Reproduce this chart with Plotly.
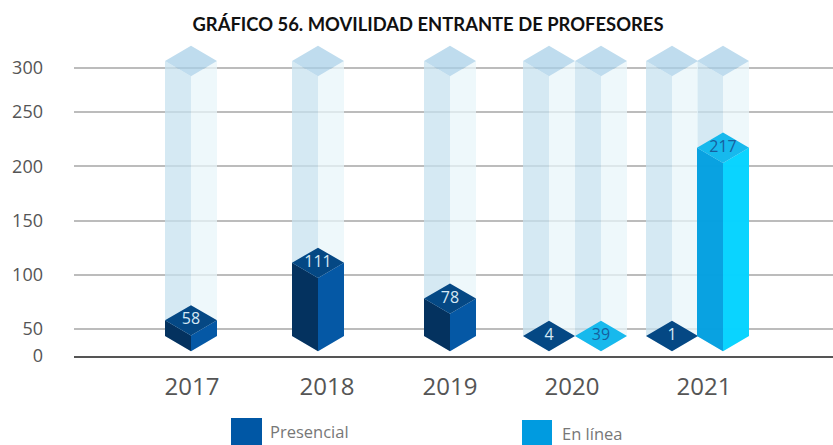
import plotly.graph_objects as go

# ---- data ----
years = ["2017", "2018", "2019", "2020", "2021"]
presencial = [58, 111, 78, 4, 1]
en_linea = [None, None, None, 39, 217]
y_tick_labels = ["0", "50", "100", "150", "200", "250", "300"]
series_names = ["Presencial", "En línea"]
title = "GRÁFICO 56. MOVILIDAD ENTRANTE DE PROFESORES"

# ---- layout constants (x axis runs in slots across the plot) ----
W, H = 833, 445
LEFT, AXIS_PX = 74, 356
PX_PER_UNIT = 1.085
ZERO_PX = 383.25
Y_RANGE = [(ZERO_PX - AXIS_PX) / PX_PER_UNIT, ZERO_PX / PX_PER_UNIT]
# the source axis is compressed at both ends: 0 and 300 sit off the regular spacing
Y_TICK_POS = [Y_RANGE[0], 50, 100, 150, 200, 250, 291]
PRES_X = [191, 318, 450, 549, 672]
LINEA_X = [None, None, None, 601, 723]
YEAR_LABEL_X = [192, 327, 450, 572, 704]
HALF_W = 26
HALF_H = 14
BASE = 43.5        # level of the lowest drawn block
COLUMN_TOP = 297   # level of the pale backdrop columns


def faces(centers, levels):
    left, right, top = ([], []), ([], []), ([], [])
    for c, v in zip(centers, levels):
        lv = max(v, BASE)
        polys = [
            (left, [c - HALF_W, c, c, c - HALF_W, c - HALF_W], [lv, lv - HALF_H, BASE - HALF_H, BASE, lv]),
            (right, [c, c + HALF_W, c + HALF_W, c, c], [lv - HALF_H, lv, BASE, BASE - HALF_H, lv - HALF_H]),
            (top, [c - HALF_W, c, c + HALF_W, c, c - HALF_W], [lv, lv + HALF_H, lv, lv - HALF_H, lv]),
        ]
        for store, xs, ys in polys:
            store[0].extend(xs + [None])
            store[1].extend(ys + [None])
    return left, right, top


def add_faces(fig, centers, levels, colors):
    for (xs, ys), col in zip(faces(centers, levels), colors):
        fig.add_trace(go.Scatter(x=xs, y=ys, mode="lines", fill="toself", fillcolor=col,
                                 line=dict(width=0), hoverinfo="skip", showlegend=False))


fig = go.Figure()

pres_pts = list(zip(PRES_X, presencial))
linea_pts = [(x, v) for x, v in zip(LINEA_X, en_linea) if v is not None]
all_x = [p[0] for p in pres_pts + linea_pts]

add_faces(fig, all_x, [COLUMN_TOP] * len(all_x),
          ["rgba(199,226,239,0.75)", "rgba(232,245,249,0.75)", "rgba(170,208,232,0.75)"])
add_faces(fig, [p[0] for p in pres_pts], [p[1] for p in pres_pts],
          ["rgba(0,46,92,0.98)", "rgba(0,85,163,0.98)", "rgba(0,68,130,0.98)"])
add_faces(fig, [p[0] for p in linea_pts], [p[1] for p in linea_pts],
          ["rgba(0,158,224,0.96)", "rgba(0,210,255,0.96)", "rgba(14,182,236,0.96)"])

fig.add_trace(go.Scatter(x=[p[0] for p in pres_pts], y=[max(p[1], BASE) for p in pres_pts],
                         text=[str(p[1]) for p in pres_pts], mode="text",
                         textfont=dict(family="Open Sans", size=16, color="#d5e8f5"),
                         textposition="middle center", hoverinfo="skip", showlegend=False, cliponaxis=False))
fig.add_trace(go.Scatter(x=[p[0] for p in linea_pts], y=[max(p[1], BASE) for p in linea_pts],
                         text=[str(p[1]) for p in linea_pts], mode="text",
                         textfont=dict(family="Open Sans", size=16, color="#17609f"),
                         textposition="middle center", hoverinfo="skip", showlegend=False, cliponaxis=False))


def paper_y(px):
    return (AXIS_PX - px) / AXIS_PX


shapes = [
    dict(type="rect", xref="x", yref="paper", x0=231, x1=262, y0=paper_y(418), y1=paper_y(450),
         fillcolor="#0057a5", line_width=0),
    dict(type="rect", xref="x", yref="paper", x0=522, x1=552, y0=paper_y(420), y1=paper_y(450),
         fillcolor="#009be0", line_width=0),
]
annotations = [
    dict(text=series_names[0], xref="x", yref="paper", x=268, y=paper_y(431), xanchor="left", yanchor="middle",
         showarrow=False, font=dict(family="Open Sans", size=16.5, color="#777777")),
    dict(text=series_names[1], xref="x", yref="paper", x=560, y=paper_y(433.5), xanchor="left", yanchor="middle",
         showarrow=False, font=dict(family="Open Sans", size=16.5, color="#777777")),
]

fig.update_layout(
    width=W, height=H, autosize=False,
    margin=dict(l=LEFT, r=0, t=0, b=H - AXIS_PX),
    paper_bgcolor="white", plot_bgcolor="white", showlegend=False,
    title=dict(text=f"<b>{title}</b>", x=428 / W, xref="container", xanchor="center",
               y=1 - 25 / H, yref="container", yanchor="middle",
               font=dict(family="Lato", size=18.4, color="#111111")),
    xaxis=dict(range=[LEFT, W], tickmode="array", tickvals=YEAR_LABEL_X, ticktext=years,
               showgrid=False, zeroline=False, showline=True, linecolor="#555555", linewidth=2,
               ticks="", ticklabelstandoff=8,
               tickfont=dict(family="Open Sans", size=24, color="#555555"), fixedrange=True),
    yaxis=dict(range=Y_RANGE, tickmode="array", tickvals=Y_TICK_POS, ticktext=y_tick_labels,
               showgrid=True, gridcolor="#bcbcbc", gridwidth=1.5, zeroline=False, showline=False,
               ticks="", ticklabelstandoff=30,
               tickfont=dict(family="Open Sans", size=18, color="#555555"), fixedrange=True),
    shapes=shapes, annotations=annotations,
)

fig.write_html("out.html", config={"displayModeBar": False},
               post_script="document.body.style.margin='0';document.documentElement.style.overflow='hidden';")
